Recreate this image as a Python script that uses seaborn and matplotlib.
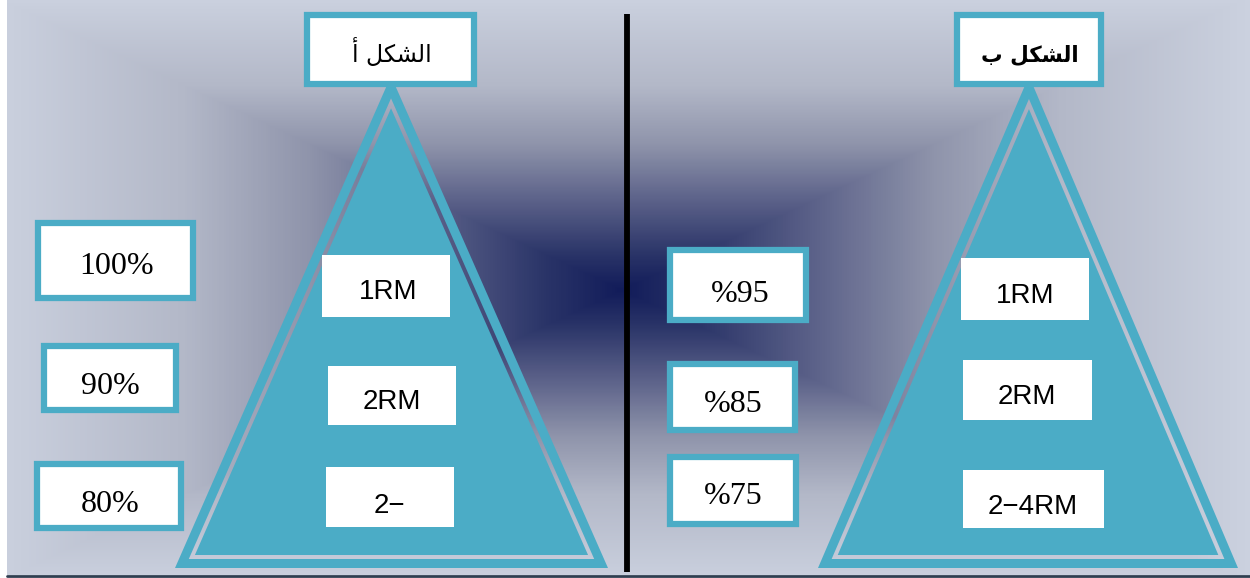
import numpy as np
import matplotlib
matplotlib.use("Agg")
import matplotlib.pyplot as plt
import seaborn as sns
from matplotlib.patches import Rectangle, Polygon, PathPatch
from matplotlib.path import Path
from matplotlib.colors import LinearSegmentedColormap

# ---------------- data (text content) ----------------
title_a = "\uFE83 \uFEDE\uFEDC\uFEB8\uFEDF\uFE8D"   # الشكل أ (visual order, shaped)
title_b = "\uFE8F \uFEDE\uFEDC\uFEB8\uFEDF\uFE8D"   # الشكل ب
left_pct = ["100%", "90%", "80%"]
right_pct = ["%95", "%85", "%75"]
left_labels = ["1RM", "2RM", "2\u2212"]
right_labels = ["1RM", "2RM", "2\u22124RM"]

sns.set_style("white")
W, H = 1250, 578
fig = plt.figure(figsize=(12.5, 5.78), dpi=100)
ax = fig.add_axes([0, 0, 1, 1])
ax.set_xlim(0, W)
ax.set_ylim(H, 0)
ax.axis("off")

TEAL = "#4bacc6"
SERIF = "Liberation Serif"
SANS = "Liberation Sans"

# ---------------- background gradient ----------------
cx, cy = 622, 290
xs = np.arange(7, W) + 0.5
ys = np.arange(0, 575) + 0.5
X, Y = np.meshgrid(xs, ys)
d = np.maximum(np.abs(X - cx) / 625.0, np.abs(Y - cy) / 292.0)
d = np.clip(d, 0, 1)
cmap = LinearSegmentedColormap.from_list(
    "bg", [(0.0, "#121c5a"), (0.12, "#2a3468"), (0.3, "#5a6088"),
           (0.5, "#8f94ab"), (0.7, "#b3b8c8"), (1.0, "#cbd1df")])
ax.imshow(d, cmap=cmap, vmin=0, vmax=1, extent=(7, W, 575, 0),
          aspect="auto", interpolation="bilinear", zorder=0)
ax.plot([7, W], [576, 576], color="#2f3e50", lw=2, zorder=1)


def inset_tri(P, dist):
    P = np.asarray(P, float)
    a = np.linalg.norm(P[1] - P[2]); b = np.linalg.norm(P[0] - P[2]); c = np.linalg.norm(P[0] - P[1])
    I = (a * P[0] + b * P[1] + c * P[2]) / (a + b + c)
    s = (a + b + c) / 2
    v1, v2 = P[1] - P[0], P[2] - P[0]
    area = abs(v1[0] * v2[1] - v1[1] * v2[0]) / 2
    r = area / s
    return I + (P - I) * (r - dist) / r


def draw_triangle(apex_x, apex_y, bl, br, base_y):
    P = np.array([[apex_x, apex_y], [bl, base_y], [br, base_y]])
    Q = inset_tri(P, 9)
    R = inset_tri(P, 13)
    verts = list(P) + [P[0]] + list(Q[::-1]) + [Q[-1]]
    codes = [Path.MOVETO, Path.LINETO, Path.LINETO, Path.CLOSEPOLY,
             Path.MOVETO, Path.LINETO, Path.LINETO, Path.CLOSEPOLY]
    ax.add_patch(PathPatch(Path(verts, codes), facecolor=TEAL, edgecolor="none", zorder=2))
    ax.add_patch(Polygon(R, closed=True, facecolor=TEAL, edgecolor="none", zorder=2))


draw_triangle(391, 76, 175, 608, 568)
draw_triangle(1029, 76, 818, 1238, 568)

# divider
ax.plot([627, 627], [14, 572], color="black", lw=4.2, solid_capstyle="butt", zorder=3)


def box(x0, y0, x1, y1, text, font, size, border=True, bold=False, tx=None, ty=None):
    ax.add_patch(Rectangle((x0, y0), x1 - x0, y1 - y0, facecolor="white",
                           edgecolor=TEAL if border else "none",
                           lw=4.5 if border else 0, zorder=4))
    tx = (x0 + x1) / 2 if tx is None else tx
    ty = (y0 + y1) / 2 if ty is None else ty
    ax.text(tx, ty, text, ha="center", va="center", fontsize=size,
            family=font, fontweight="bold" if bold else "normal", color="black", zorder=5)


# titles
box(307, 15, 474, 84, title_a, ["DejaVu Sans"], 17, tx=392, ty=52)
box(957, 15, 1101, 84, title_b, ["DejaVu Sans"], 15.5, bold=True, tx=1030, ty=55)

# left percentages
lp_boxes = [(38, 223, 193, 298), (44, 346, 176, 410), (37, 464, 181, 528)]
lp_text = [(117, 266), (110, 386), (110, 505)]
for (b, t, s) in zip(lp_boxes, lp_text, left_pct):
    box(*b, s, SERIF, 23, tx=t[0], ty=t[1])

# right percentages
rp_boxes = [(670, 250, 806, 320), (670, 364, 795, 430), (670, 457, 796, 524)]
rp_text = [(740, 294), (733, 404), (733, 496)]
for (b, t, s) in zip(rp_boxes, rp_text, right_pct):
    box(*b, s, SERIF, 23, tx=t[0], ty=t[1])

# triangle labels
ll_boxes = [(322, 255, 450, 317), (328, 366, 456, 425), (326, 467, 454, 527)]
ll_text = [(388, 292), (392, 402), (389, 506)]
for (b, t, s) in zip(ll_boxes, ll_text, left_labels):
    box(*b, s, SANS, 20, border=False, tx=t[0], ty=t[1])

rl_boxes = [(961, 258, 1089, 320), (963, 360, 1092, 420), (963, 470, 1104, 528)]
rl_text = [(1025, 296), (1027, 397), (1033, 507)]
for (b, t, s) in zip(rl_boxes, rl_text, right_labels):
    box(*b, s, SANS, 20, border=False, tx=t[0], ty=t[1])

fig.savefig("out.png", dpi=100, facecolor="white")
